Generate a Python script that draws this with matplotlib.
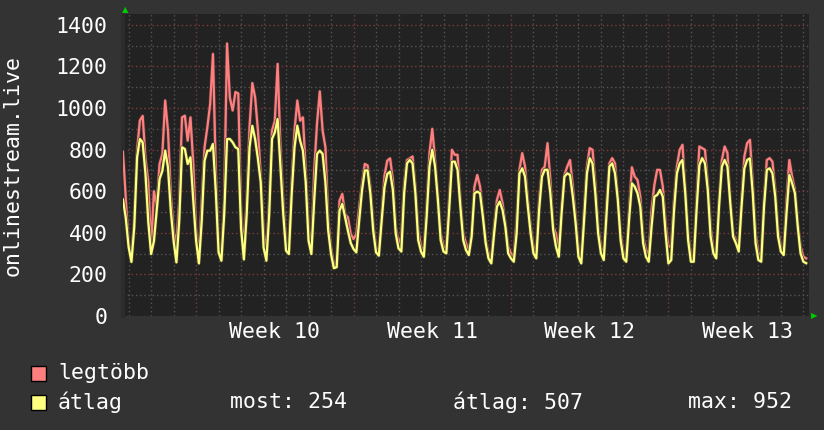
import matplotlib.pyplot as plt
import numpy as np

# samples every 3 hours, first one at t0 days (t=0 is the Monday starting week 10)
t0 = -3.25
step = 1.0 / 8

legtobb = [
    790, 560,
    346, 298, 458, 795, 940, 962, 755, 645,
    330, 600, 530, 731, 779, 1036, 891, 587,
    410, 346, 555, 955, 963, 843, 955, 731,
    410, 298, 555, 811, 907, 1019, 1260, 700,
    330, 298, 555, 1310, 1050, 988, 1077, 1070,
    500, 330, 555, 907, 1120, 1050, 891, 674,
    410, 306, 555, 891, 939, 1212, 811, 555,
    346, 330, 645, 891, 1036, 939, 955, 698,
    426, 314, 698, 923, 1080, 891, 811, 458,
    330, 245, 260, 555, 587, 490, 474, 394,
    370, 394, 523, 635, 731, 724, 619, 442,
    330, 298, 490, 674, 747, 758, 654, 430,
    350, 382, 638, 750, 758, 767, 622, 414,
    334, 310, 526, 783, 900, 750, 574, 397,
    334, 326, 558, 799, 775, 775, 558, 397,
    350, 310, 397, 622, 678, 622, 494, 365,
    301, 277, 430, 558, 606, 542, 446, 334,
    301, 285, 462, 703, 783, 718, 558, 430,
    334, 301, 558, 703, 718, 831, 654, 430,
    397, 310, 526, 678, 718, 750, 622, 478,
    326, 269, 510, 718, 807, 799, 638, 430,
    334, 285, 542, 734, 759, 734, 574, 397,
    301, 285, 510, 715, 670, 654, 574, 382,
    317, 301, 510, 630, 703, 702, 622, 446,
    334, 334, 558, 718, 799, 823, 606, 397,
    293, 285, 558, 815, 807, 799, 638, 430,
    317, 293, 558, 750, 815, 783, 558, 397,
    365, 326, 558, 767, 831, 847, 638, 397,
    301, 293, 558, 750, 759, 742, 606, 414,
    334, 310, 558, 750, 670, 606, 446, 334,
    285, 277,
]

atlag = [
    560, 470,
    332, 260, 428, 763, 851, 835, 683, 452,
    298, 360, 507, 659, 698, 795, 715, 507,
    362, 258, 458, 811, 803, 731, 763, 555,
    362, 253, 458, 747, 795, 795, 827, 600,
    306, 266, 490, 851, 851, 835, 811, 803,
    420, 272, 490, 811, 914, 850, 755, 642,
    330, 266, 490, 851, 883, 947, 714, 490,
    314, 298, 587, 811, 915, 843, 795, 642,
    362, 298, 555, 779, 795, 779, 642, 410,
    298, 230, 235, 507, 539, 474, 410, 351,
    322, 306, 458, 603, 700, 700, 587, 410,
    306, 290, 458, 619, 683, 694, 606, 397,
    325, 310, 590, 734, 750, 734, 590, 365,
    310, 285, 478, 719, 799, 719, 558, 365,
    310, 301, 510, 742, 742, 703, 526, 365,
    317, 293, 382, 590, 598, 590, 478, 350,
    277, 253, 397, 526, 550, 510, 430, 301,
    277, 261, 397, 686, 710, 670, 526, 397,
    301, 277, 510, 670, 703, 703, 590, 414,
    334, 285, 494, 670, 686, 678, 574, 446,
    285, 253, 462, 686, 759, 734, 590, 397,
    301, 269, 494, 719, 734, 686, 558, 365,
    277, 261, 462, 638, 622, 590, 526, 350,
    285, 261, 430, 574, 582, 606, 574, 397,
    253, 269, 510, 686, 734, 750, 590, 365,
    261, 261, 510, 726, 759, 734, 606, 382,
    301, 277, 526, 719, 750, 719, 542, 382,
    350, 310, 526, 710, 750, 758, 590, 350,
    269, 261, 526, 703, 710, 686, 574, 382,
    310, 293, 494, 678, 638, 590, 430, 301,
    261, 254,
]

weeks = ['Week 10', 'Week 11', 'Week 12', 'Week 13']
week_starts = [0, 7, 14, 21]

t = t0 + step * np.arange(len(legtobb))

bg = '#333333'
plotbg = '#222222'
red = '#ff7f7f'
yellow = '#ffff80'
mono = 'DejaVu Sans Mono'
fs = 15.5

fig = plt.figure(figsize=(8.24, 4.30), dpi=100, facecolor=bg)
ax = fig.add_axes([123 / 824, 1 - 316 / 430, 686 / 824, 302 / 430])
ax.set_facecolor(plotbg)

# grid: minor gray every day / 100, major red every week / 200
for d in range(-3, 28):
    if d in week_starts:
        ax.axvline(d, color='#7a3a3a', ls=(0, (1, 2)), lw=1, zorder=1)
    else:
        ax.axvline(d, color='#555555', ls=(0, (1, 2)), lw=1, zorder=1)
for v in range(100, 1500, 100):
    if v % 200 == 0:
        ax.axhline(v, color='#803a3a', ls=(0, (1, 2)), lw=1, zorder=1)
    else:
        ax.axhline(v, color='#555555', ls=(0, (1, 2)), lw=1, zorder=1)

ax.plot(t, legtobb, color='#4a3535', lw=2.6, zorder=2)
ax.plot(t, legtobb, color=red, lw=1.6, zorder=3)
ax.plot(t, atlag, color='#4a4a30', lw=2.6, zorder=4)
ax.plot(t, atlag, color=yellow, lw=1.6, zorder=5)

ax.set_xlim(-3.25, 27.25)
ax.set_ylim(0, 1452)

ax.set_yticks(range(0, 1401, 200))
ax.set_yticklabels([str(v) for v in range(0, 1401, 200)])
ax.set_xticks([w + 3.5 for w in week_starts])
ax.set_xticklabels(weeks)
ax.tick_params(axis='both', length=0, colors='white', labelsize=fs)
ax.tick_params(axis='y', pad=11)
ax.tick_params(axis='x', pad=4)
for lab in ax.get_xticklabels() + ax.get_yticklabels():
    lab.set_family(mono)

for s in ax.spines.values():
    s.set_visible(False)
ax.spines['left'].set_visible(True)
ax.spines['left'].set_color('#2c2c2c')
ax.spines['left'].set_linewidth(3)

ax.set_ylabel('onlinestream.live', color='white', fontsize=fs, family=mono, labelpad=24)

# axis arrows
fig.text(125 / 824, 1 - 10 / 430, '\u25b2', color='#00cc00', fontsize=6,
         ha='center', va='center')
fig.text(814 / 824, 1 - 316 / 430, '\u25b6', color='#00cc00', fontsize=6,
         ha='center', va='center')

# legend
for y, c, name in [(373, red, 'legtöbb'), (402, yellow, 'átlag')]:
    fig.patches.append(plt.Rectangle((31 / 824, 1 - (y + 8) / 430), 15 / 824, 15 / 430,
                                     transform=fig.transFigure, facecolor=c,
                                     edgecolor='black', lw=1))
    fig.text(58 / 824, 1 - y / 430, name, color='white', fontsize=fs,
             family=mono, va='center')
fig.text(230 / 824, 1 - 402 / 430, 'most: 254', color='white', fontsize=fs, family=mono, va='center')
fig.text(453 / 824, 1 - 402 / 430, 'átlag: 507', color='white', fontsize=fs, family=mono, va='center')
fig.text(688 / 824, 1 - 402 / 430, 'max: 952', color='white', fontsize=fs, family=mono, va='center')

fig.savefig('out.png', dpi=100, facecolor=bg)
